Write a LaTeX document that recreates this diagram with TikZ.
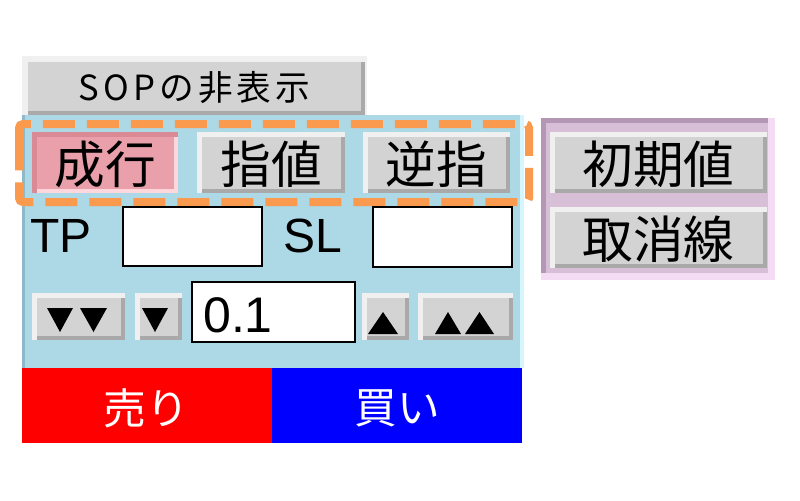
\documentclass[tikz,border=0pt]{standalone}
\usepackage{fontspec}
\setmainfont{Liberation Sans}
\newfontfamily\jp{Noto Sans CJK JP}
\definecolor{panelblue}{HTML}{ADD8E6}
\definecolor{paneledge}{HTML}{8DB9CB}
\definecolor{panelhi}{HTML}{D4F6FC}
\definecolor{btnface}{HTML}{D3D3D3}
\definecolor{btnhi}{HTML}{F0F0F0}
\definecolor{btnlo}{HTML}{A9A9A9}
\definecolor{pinkface}{HTML}{E9A0AA}
\definecolor{pinklo}{HTML}{D98A94}
\definecolor{pinkhi}{HTML}{FFD6DC}
\definecolor{dashorange}{HTML}{FA9A4E}
\definecolor{thistlebg}{HTML}{D8BFD8}
\definecolor{thistlelo}{HTML}{B497B4}
\definecolor{thistlehi}{HTML}{F5DCF5}
\definecolor{sellred}{HTML}{FF0000}
\definecolor{buyblue}{HTML}{0000FF}
\newcommand{\mybtn}[9]{%
  \fill[#8] (#2,#3) rectangle (#4,#5);
  \fill[#9] ({#2+5},{#3+5}) rectangle (#4,#5);
  \fill[#7] ({#2+5},{#3+5}) rectangle ({#4-4},{#5-4});
  \node[btntext] (#1) at ({(#2+#4)/2},{(#3+#5)/2+2}) {#6};
}
\begin{document}
\begin{tikzpicture}[x=0.75pt,y=-0.75pt,
  btntext/.style={inner sep=0pt,font=\jp\fontsize{38pt}{40pt}\selectfont},
  soptext/.style={inner sep=0pt,font=\jp\addfontfeature{LetterSpace=12}\fontsize{26pt}{28pt}\selectfont},
  latin/.style={inner sep=0pt,anchor=base west,font=\fontsize{36pt}{38pt}\selectfont},
  inbox/.style={draw=black,line width=1.5pt,fill=white},
  trifill/.style={fill=black},
  dashbox/.style={draw=dashorange,line width=6pt,dash pattern=on 24pt off 9pt,rounded corners=3pt},
  bigtext/.style={inner sep=0pt,text=white,font=\jp\fontsize{32pt}{34pt}\selectfont}]
\useasboundingbox[fill=white] (0,0) rectangle (800,500);
% top gray button
\fill[btnhi] (22,56) rectangle (367,115);
\fill[btnlo] (28,62) rectangle (365,115);
\fill[btnface] (28,62) rectangle (361,111);
\node[soptext] (sop) at (194.5,88) {SOPの非表示};
% blue panel
\fill[panelblue] (22,115) rectangle (520,368);
\fill[paneledge] (22,115) rectangle (25,368);
\fill[panelhi] (520,115) rectangle (524,368);
% order type buttons
\mybtn{market}{32}{132}{178}{193}{成行}{pinkface}{pinklo}{pinkhi}
\mybtn{limit}{197}{132}{345}{193}{指値}{btnface}{btnhi}{btnlo}
\mybtn{stop}{363}{132}{510}{193}{逆指}{btnface}{btnhi}{btnlo}
% dashed highlight
\draw[dashbox] (19,150) -- (19,124) -- (529,124) -- (529,202) -- (19,202) -- cycle;
% TP / SL
\node[latin] (tp) at (30,252) {TP};
\draw[inbox] (123,207) rectangle (262,266);
\node[inner sep=0pt] (tpbox) at (192.5,236.5) {};
\node[latin] (sl) at (283,252) {SL};
\draw[inbox] (373,207) rectangle (512,267);
\node[inner sep=0pt] (slbox) at (442.5,237) {};
% lot row
\mybtn{ddn}{32}{293}{125}{340}{}{btnface}{btnhi}{btnlo}
\fill[trifill] (47,308) -- (73,308) -- (60,332) -- cycle;
\fill[trifill] (80,308) -- (107,308) -- (93.5,332) -- cycle;
\mybtn{dn}{135}{293}{182}{340}{}{btnface}{btnhi}{btnlo}
\fill[trifill] (142,308) -- (168,308) -- (155,332) -- cycle;
\draw[inbox] (192,282) rectangle (355,342);
\node[latin,font=\fontsize{37.5pt}{40pt}\selectfont] (lot) at (203,332) {0.1};
\mybtn{up}{362}{293}{409}{340}{}{btnface}{btnhi}{btnlo}
\fill[trifill] (368,334) -- (398,334) -- (383,312) -- cycle;
\mybtn{uup}{418}{293}{513}{340}{}{btnface}{btnhi}{btnlo}
\fill[trifill] (435,334) -- (461,334) -- (448,312) -- cycle;
\fill[trifill] (465,334) -- (494,334) -- (479.5,312) -- cycle;
% sell / buy
\fill[sellred] (22,368) rectangle (272,443);
\fill[buyblue] (272,368) rectangle (522,443);
\node[bigtext] (sell) at (146,408) {売り};
\node[bigtext] (buy) at (397,408) {買い};
% right panel
\fill[thistlehi] (541,118) rectangle (775,280);
\fill[thistlelo] (541,118) rectangle (768,273);
\fill[thistlebg] (546,123) rectangle (768,273);
\mybtn{reset}{550}{132}{767}{193}{初期値}{btnface}{btnhi}{btnlo}
\mybtn{cancel}{550}{207}{767}{268}{取消線}{btnface}{btnhi}{btnlo}
\end{tikzpicture}
\end{document}
